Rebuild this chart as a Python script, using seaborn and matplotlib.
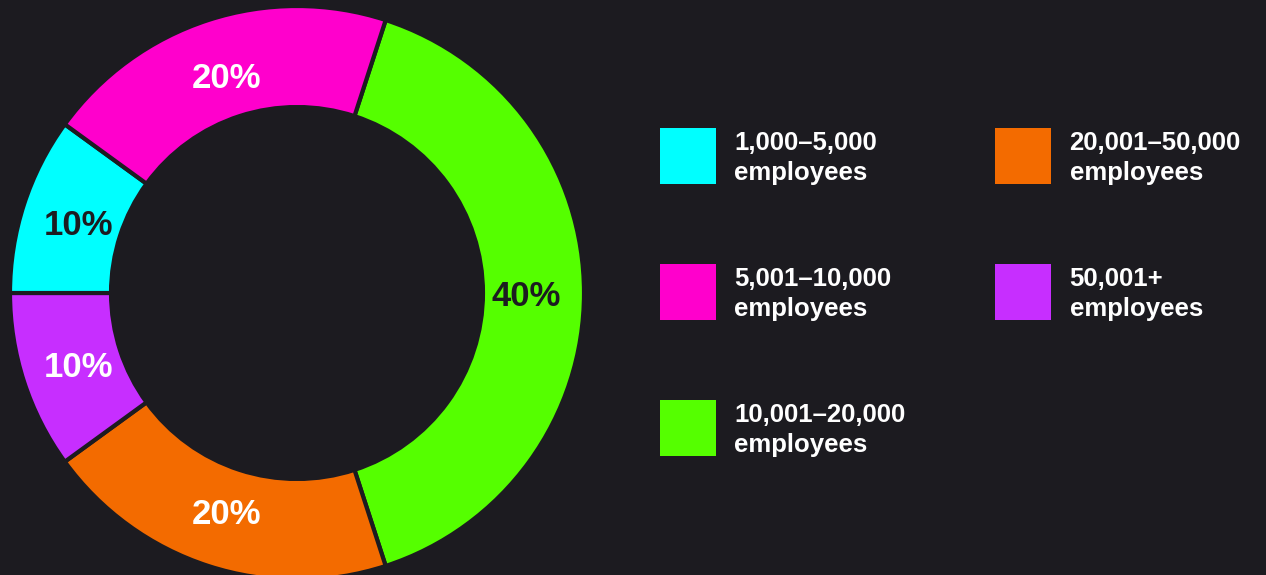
import matplotlib
matplotlib.use("Agg")
import matplotlib.pyplot as plt
from matplotlib.patches import Patch, Rectangle
from matplotlib.legend_handler import HandlerPatch
import seaborn as sns

# Company size distribution
segments = ["10,001–20,000", "20,001–50,000", "50,001+", "1,000–5,000", "5,001–10,000"]
shares = [40, 20, 10, 10, 20]
colors = ["#55FF00", "#F36B00", "#C72EFF", "#00FFFF", "#FF00CC"]
label_colors = ["#1C1C20", "#FFFFFF", "#FFFFFF", "#1C1C20", "#FFFFFF"]
legend_order = ["1,000–5,000", "5,001–10,000", "10,001–20,000", "20,001–50,000", "50,001+"]

BG = "#1C1B20"

sns.set_theme(style="white")
plt.rcParams["font.family"] = ["Liberation Sans", "DejaVu Sans"]
plt.rcParams["font.weight"] = "bold"

W, H = 1266, 575
fig = plt.figure(figsize=(W / 100, H / 100), dpi=100, facecolor=BG)

# donut axes placed in pixel terms: centre (297, 293), outer radius ~287
R = 287.0
cx, cy = 297, 293
ax = fig.add_axes([(cx - R) / W, (H - cy - R) / H, 2 * R / W, 2 * R / H])
ax.set_facecolor(BG)

wedges, texts, autotexts = ax.pie(
    shares,
    colors=colors,
    startangle=72,
    counterclock=False,
    radius=1.0,
    autopct=lambda p: f"{p:.0f}%",
    pctdistance=0.80,
    wedgeprops=dict(width=0.352, edgecolor=BG, linewidth=3.0),
    textprops=dict(fontsize=25, fontweight="bold"),
)
for t, c in zip(autotexts, label_colors):
    t.set_color(c)
    t.set_verticalalignment("center_baseline")
ax.set_xlim(-1, 1)
ax.set_ylim(-1, 1)
ax.set_aspect("auto")
ax.axis("off")


# square swatches, raised slightly so the two-line label sits centred beside them
def swatch(legend, orig_handle, xdescent, ydescent, width, height, fontsize):
    return Rectangle((-xdescent, -ydescent + 3.0), width, height)


color_of = dict(zip(segments, colors))
handles = [Patch(facecolor=color_of[s], edgecolor="none") for s in legend_order]
labels = [f"{s}\nemployees" for s in legend_order]
fs = 18.5
leg = fig.legend(
    handles, labels,
    ncol=2,
    loc="upper left",
    bbox_to_anchor=(660 / W, 1 - 131 / H),
    frameon=False,
    handlelength=40.3 / fs,
    handleheight=3.07 * 18 / fs,
    handletextpad=0.72,
    labelspacing=3.07,
    columnspacing=3.48,
    borderpad=0,
    borderaxespad=0,
    labelcolor="white",
    prop=dict(weight="bold", size=fs),
    handler_map={Patch: HandlerPatch(patch_func=swatch)},
)
for t in leg.get_texts():
    t.set_linespacing(1.32)

fig.savefig("out.png", dpi=100, facecolor=BG)
